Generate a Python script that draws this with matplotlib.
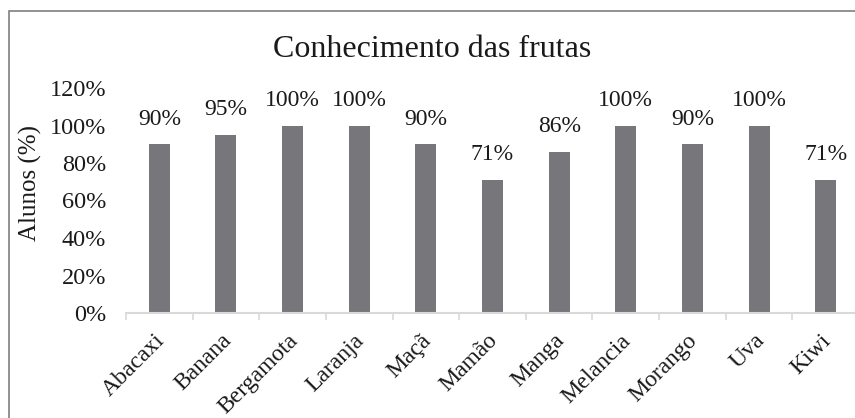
import matplotlib
matplotlib.use("Agg")
import matplotlib.pyplot as plt
from matplotlib.patches import Rectangle
from matplotlib.ticker import FixedLocator, PercentFormatter
from matplotlib.transforms import ScaledTranslation

categories = ["Abacaxi", "Banana", "Bergamota", "Laranja", "Maçã", "Mamão",
              "Manga", "Melancia", "Morango", "Uva", "Kiwi"]
values = [90, 95, 100, 100, 90, 71, 86, 100, 90, 100, 71]
yticks = [0, 20, 40, 60, 80, 100, 120]
title = "Conhecimento das frutas"
ylabel = "Alunos (%)"

W, H = 855, 418
plt.rcParams['font.family'] = ['Liberation Serif', 'DejaVu Serif']
fig = plt.figure(figsize=(W / 100, H / 100), dpi=100)

def fx(px):
    return px / W

def fy(py):
    return 1 - py / H

left, right, bottom, top = 126, 859, 313, 88
ax = fig.add_axes([fx(left), fy(bottom), fx(right - left), fy(top) - fy(bottom)])

x = list(range(len(categories)))
bar_color = "#77777b"
ax.bar(x, values, width=0.315, color=bar_color, zorder=2)
ax.set_xlim(-0.5, len(categories) - 0.5)
ax.set_ylim(0, 120)

text_color = "#1a1a1a"
fs = 17.5
for xi, v in zip(x, values):
    ax.annotate(f"{v}%", (xi, v), xytext=(0, 14), textcoords="offset points",
                ha="center", va="baseline", fontsize=17, color=text_color)

ax.yaxis.set_major_locator(FixedLocator(yticks))
ax.yaxis.set_major_formatter(PercentFormatter(decimals=0))
ax.tick_params(axis="y", length=0, pad=14.4, labelsize=fs, labelcolor=text_color)

ax.set_xticks(x)
ax.set_xticklabels(categories, rotation=45, ha="right", va="center",
                   rotation_mode="anchor", fontsize=17, color=text_color)
ax.tick_params(axis="x", which="major", length=0, pad=12)
offset = ScaledTranslation(2 / 100, -8 / 100, fig.dpi_scale_trans)
for lbl in ax.get_xticklabels():
    lbl.set_transform(lbl.get_transform() + offset)
ax.set_xticks([i - 0.5 for i in range(len(categories) + 1)], minor=True)
ax.tick_params(axis="x", which="minor", length=5, width=1.2, color="#d9d9d9")

for s in ["left", "right", "top"]:
    ax.spines[s].set_visible(False)
ax.spines["bottom"].set_color("#d9d9d9")
ax.spines["bottom"].set_linewidth(1.5)

fig.text(fx(432), fy(57), title, ha="center", va="baseline", fontsize=23, color=text_color)
fig.text(fx(30), fy(183), ylabel, ha="center", va="center", rotation=90,
         fontsize=18, color=text_color)

frame = Rectangle((fx(9), fy(H + 20)), fx(W + 20), fy(11) - fy(H + 20),
                  transform=fig.transFigure, fill=False, edgecolor="#7f7f7f",
                  linewidth=1.2, clip_on=False)
fig.patches.append(frame)

fig.savefig("out.png", dpi=100)
